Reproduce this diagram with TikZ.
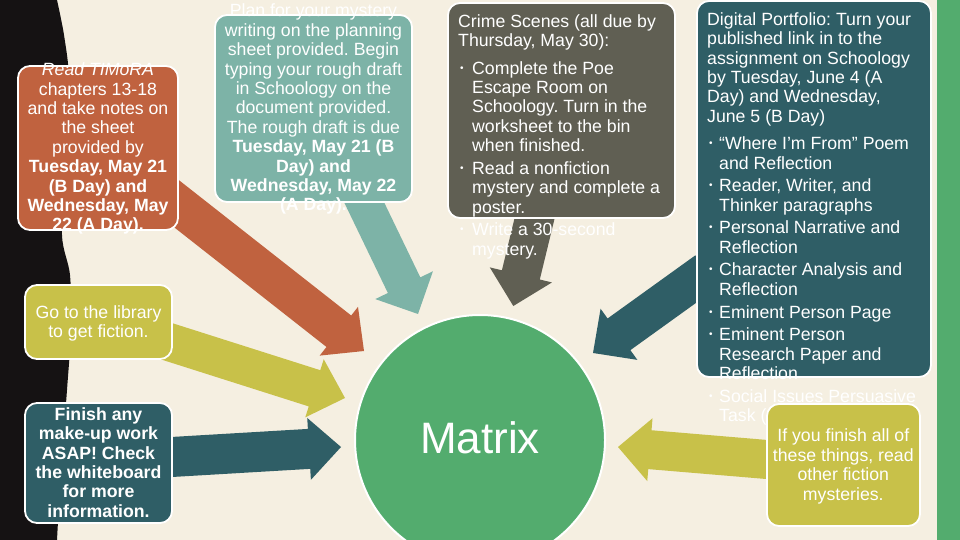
\documentclass[tikz,border=0pt]{standalone}
\usepackage{fontspec}
\setmainfont{Liberation Sans}
\usetikzlibrary{calc}
\frenchspacing
\definecolor{bgc}{HTML}{F5EFE1}
\definecolor{blk}{HTML}{151213}
\definecolor{orn}{HTML}{C0623F}
\definecolor{olv}{HTML}{C8C149}
\definecolor{dtl}{HTML}{2F5E66}
\definecolor{ltl}{HTML}{7DB3A7}
\definecolor{gry}{HTML}{605F53}
\definecolor{grn}{HTML}{53AC6E}
% color, start, tip, shaft half width, head half width
\newcommand{\mkarrow}[5]{%
  \coordinate (hb) at ($(#3)!32pt!(#2)$);
  \fill[#1] ($(#2)!#4!90:(#3)$) -- ($(hb)!#4!90:(#3)$) -- ($(hb)!#5!90:(#3)$) -- (#3)
    -- ($(hb)!#5!-90:(#3)$) -- ($(hb)!#4!-90:(#3)$) -- ($(#2)!#4!-90:(#3)$) -- cycle;}
\newcommand{\bulA}{\hspace*{2pt}\makebox[12pt][l]{\raisebox{3pt}{\fontsize{10}{0}\selectfont •}}}
\newcommand{\bulB}{\hspace*{2pt}\makebox[10pt][l]{\raisebox{3pt}{\fontsize{10}{0}\selectfont •}}}
\tikzset{
  txt/.style={text=white, inner sep=0pt, font=\fontsize{17.7}{19.4}\selectfont},
  box/.style={draw=white, line width=1.8pt, rounded corners=12pt, inner sep=0pt, rectangle},
}
\begin{document}
\begin{tikzpicture}[x=1pt, y=-1pt]
\useasboundingbox (0,0) rectangle (960,540);
\fill[bgc] (0,0) rectangle (960,540);
\fill[blk] (0,0) -- plot[smooth] coordinates {(57,0) (64,35) (69,80) (66,160) (62,235) (70,275) (71,330) (67,390) (61,470) (57,540)} -- (0,540) -- cycle;
\fill[grn] (937,0) rectangle (960,540);

% arrow end points
\coordinate (aoS) at (152.7,185);  \coordinate (aoT) at (364,351);
\coordinate (atS) at (347.8,168.5); \coordinate (atT) at (418,314);
\coordinate (agS) at (541.6,189.4); \coordinate (agT) at (513.3,306);
\coordinate (adS) at (706.7,271.2); \coordinate (adT) at (593,353);
\coordinate (ayS) at (154.4,337.4); \coordinate (ayT) at (345,398);
\coordinate (afS) at (161.4,457.6); \coordinate (afT) at (341,447);
\coordinate (arS) at (782.4,460.8); \coordinate (arT) at (618,447);

\mkarrow{orn}{aoS}{aoT}{20pt}{31pt}
\mkarrow{ltl}{atS}{atT}{18pt}{32pt}
\mkarrow{gry}{agS}{agT}{19.5pt}{32pt}
\mkarrow{dtl}{adS}{adT}{19.5pt}{31.5pt}
\mkarrow{olv}{ayS}{ayT}{19pt}{30.5pt}
\mkarrow{dtl}{afS}{afT}{20pt}{31pt}
\mkarrow{olv}{arS}{arT}{19.5pt}{31.5pt}

% centre
\node[circle, fill=grn, draw=white, line width=2pt, minimum size=250pt, inner sep=0pt] (mx) at (480,440) {};
\node[text=white, inner sep=0pt, font=\fontsize{44}{44}\selectfont] (mxt) at (480,438) {Matrix};

% boxes
\node[box, fill=orn, minimum width=160pt, minimum height=164pt] (read) at (98,148) {};
\node[txt, align=center, anchor=north] (readtxt) at (98,62.7) {\textit{Read TIMoRA}\\chapters 13-18\\and take notes on\\the sheet\\provided by\\\textbf{Tuesday, May 21}\\\textbf{(B Day) and}\\\textbf{Wednesday, May}\\\textbf{22 (A Day).}};

\node[box, fill=ltl, minimum width=197pt, minimum height=187pt] (plan) at (313.5,108.5) {};
\node[txt, align=center, anchor=north] (plantxt) at (313.5,3.9) {Plan for your mystery\\writing on the planning\\sheet provided. Begin\\typing your rough draft\\in Schoology on the\\document provided.\\The rough draft is due\\\textbf{Tuesday, May 21 (B}\\\textbf{Day) and}\\\textbf{Wednesday, May 22}\\\textbf{(A Day).}};

\node[box, fill=gry, minimum width=227pt, minimum height=215pt] (crime) at (561.5,110.5) {};
\node[txt, align=left, anchor=north west] (crimetxt) at (458,14.2) {Crime Scenes (all due by\\Thursday, May 30):\\[8pt]\bulA Complete the Poe\\\hspace*{14pt}Escape Room on\\\hspace*{14pt}Schoology. Turn in the\\\hspace*{14pt}worksheet to the bin\\\hspace*{14pt}when finished.\\[3.3pt]\bulA Read a nonfiction\\\hspace*{14pt}mystery and complete a\\\hspace*{14pt}poster.\\[3.3pt]\bulA Write a 30-second\\\hspace*{14pt}mystery.};

\node[box, fill=olv, minimum width=147pt, minimum height=74pt] (lib) at (98.5,322) {};
\node[txt, align=center, anchor=north] (libtxt) at (98.5,305.5) {Go to the library\\to get fiction.};

\node[box, fill=dtl, minimum width=147pt, minimum height=120pt] (fin) at (98.5,463) {};
\node[txt, align=center, anchor=north, font=\fontsize{17.7}{19.4}\selectfont\bfseries] (fintxt) at (98.5,407.2) {Finish any\\make-up work\\ASAP! Check\\the whiteboard\\for more\\information.};

\node[box, fill=dtl, minimum width=234pt, minimum height=376pt] (port) at (814,189) {};
\node[txt, align=left, anchor=north west] (porttxt) at (707,12.2) {Digital Portfolio: Turn your\\published link in to the\\assignment on Schoology\\by Tuesday, June 4 (A\\Day) and Wednesday,\\June 5 (B Day)\\[8pt]\bulB “Where I’m From” Poem\\\hspace*{12pt}and Reflection\\[3.3pt]\bulB Reader, Writer, and\\\hspace*{12pt}Thinker paragraphs\\[3.3pt]\bulB Personal Narrative and\\\hspace*{12pt}Reflection\\[3.3pt]\bulB Character Analysis and\\\hspace*{12pt}Reflection\\[3.3pt]\bulB Eminent Person Page\\[3.3pt]\bulB Eminent Person\\\hspace*{12pt}Research Paper and\\\hspace*{12pt}Reflection\\[3.3pt]\bulB Social Issues Persuasive\\\hspace*{12pt}Task (};

\node[box, fill=olv, minimum width=153pt, minimum height=122pt] (more) at (843.5,465) {};
\node[txt, align=center, anchor=north] (moretxt) at (843.3,428.9) {If you finish all of\\these things, read\\other fiction\\mysteries.};
\end{tikzpicture}
\end{document}
